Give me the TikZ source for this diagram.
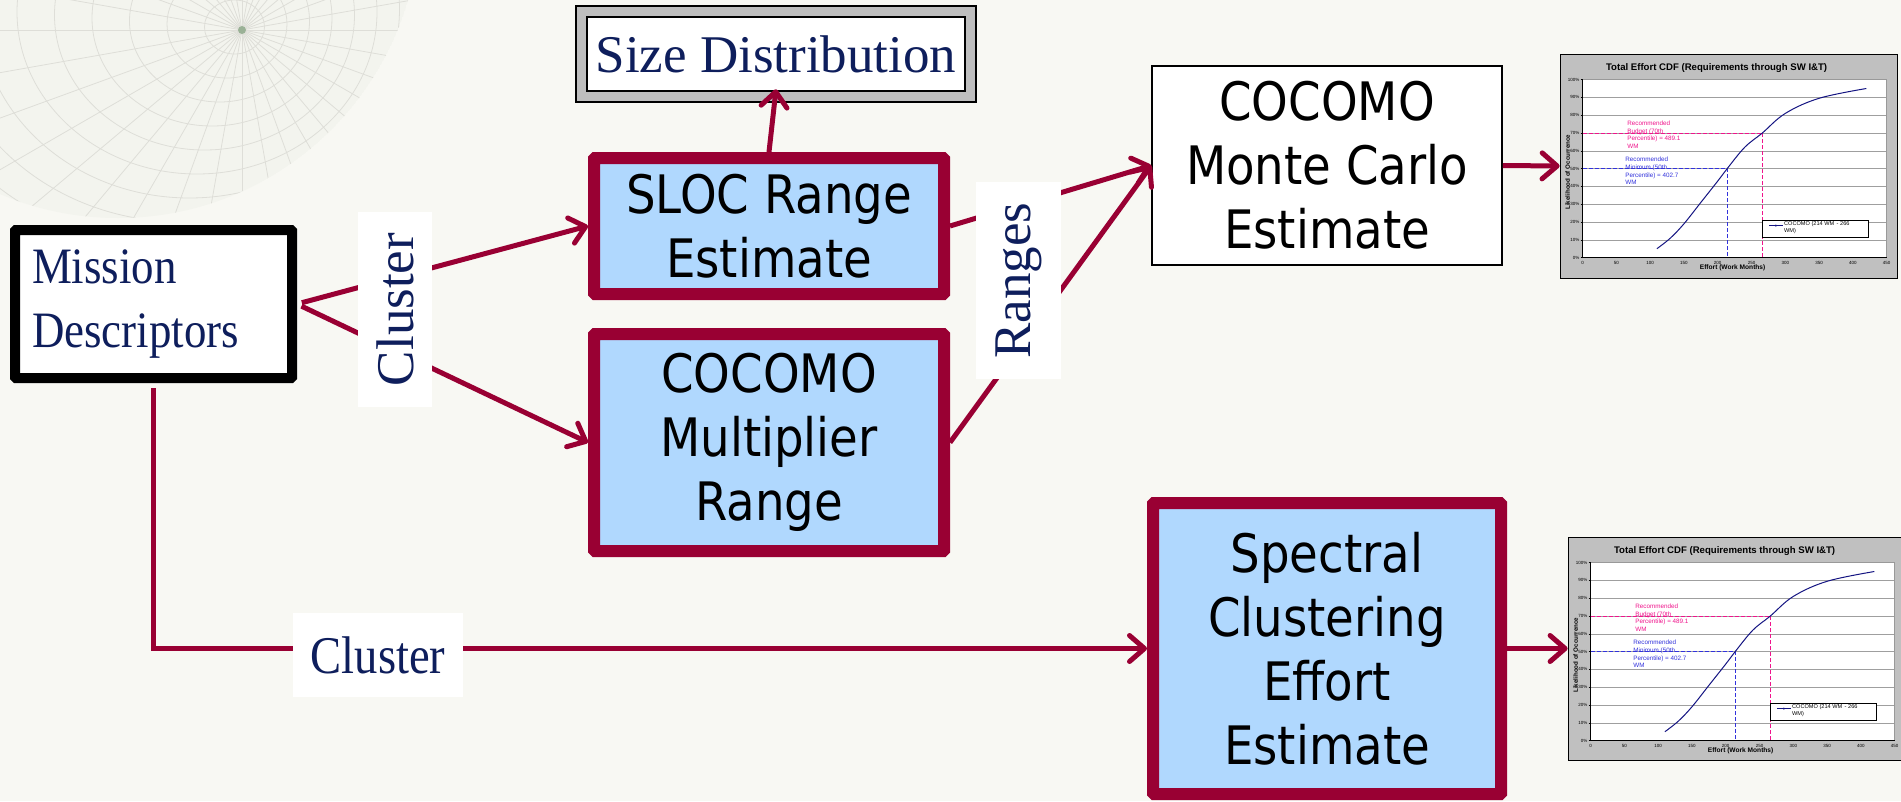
\documentclass[tikz,border=0pt]{standalone}
\usepackage{fontspec}
\setmainfont{Liberation Serif}
\newfontfamily\serifC{Liberation Serif}[FakeStretch=0.88]
\newfontfamily\sansT{DejaVu Sans}[FakeStretch=0.88]
\newfontfamily\chartfont{Liberation Sans}
\usetikzlibrary{arrows.meta}
\definecolor{crimson}{RGB}{153,0,51}
\definecolor{boxblue}{RGB}{176,216,254}
\definecolor{navy}{RGB}{14,30,92}
\definecolor{bgcream}{RGB}{248,248,243}
\definecolor{framegray}{RGB}{190,190,190}
\definecolor{chartgray}{RGB}{192,192,192}
\definecolor{chartpink}{RGB}{240,20,140}
\definecolor{chartblue}{RGB}{50,50,220}
\definecolor{curveblue}{RGB}{20,20,130}
\definecolor{globeline}{RGB}{222,222,216}
\definecolor{globefill}{RGB}{243,244,238}
\tikzset{
  x=1pt, y=-1pt,
  redbox/.style={draw=crimson, line width=12pt, fill=boxblue, rounded corners=1pt,
    align=center, inner sep=0pt, font=\sansT\fontsize{53}{64}\selectfont},
  whitebox/.style={draw=black, line width=1.5pt, fill=white, align=center,
    inner sep=0pt, font=\sansT\fontsize{53}{64}\selectfont},
  link/.style={draw=crimson, line width=5pt,
    -{Straight Barb[length=15pt,width=26pt,round]}},
  vlabel/.style={fill=white, rotate=90, inner sep=0pt, text=navy,
    font=\fontsize{53}{64}\selectfont},
  hlabel/.style={fill=white, inner sep=0pt, text=navy,
    font=\serifC\fontsize{53}{64}\selectfont},
  chartbox/.style={draw=black, line width=0.8pt, fill=chartgray, inner sep=0pt},
  tickfont/.style={font=\chartfont\fontsize{4.5}{5}\selectfont, inner sep=1pt},
  notefont/.style={font=\chartfont\fontsize{6.3}{7.7}\selectfont, inner sep=0pt, align=left},
}
\newcommand{\effchart}[1]{%
\begin{scope}[shift={(#1.north west)}]
  \node[font=\chartfont\bfseries\fontsize{9.6}{11}\selectfont, inner sep=0pt] (#1title) at (157,14)
    {Total Effort CDF (Requirements through SW I\&T)};
  \begin{scope}[shift={(23,204)}, x=0.6756pt, y=1.78pt]
    \fill[white] (0,0) rectangle (450,100);
    \foreach \p in {10,20,...,100} \draw[gray!75, line width=0.6pt] (0,\p) -- (450,\p);
    \draw[gray!80, line width=0.8pt] (0,100) -| (450,0);
    \draw[black, line width=0.9pt] (0,100) -- (0,0) -- (450,0);
    \foreach \p in {0,10,...,100} {
      \draw[black, line width=0.5pt] (-3,\p) -- (0,\p);
      \node[tickfont, anchor=east] (#1y\p) at (-3,\p) {\p\%};
    }
    \foreach \v in {0,50,...,450} {
      \node[tickfont, anchor=north] (#1x\v) at (\v,-1.5) {\v};
    }
    \node[font=\chartfont\bfseries\fontsize{6.2}{7}\selectfont, inner sep=0pt, rotate=90] (#1ytitle) at (-22,48) {Likelihood of Occurrence};
    \node[font=\chartfont\bfseries\fontsize{6.6}{7}\selectfont, inner sep=0pt] (#1xtitle) at (222,-5.6) {Effort (Work Months)};
    \draw[chartpink, dashed, line width=1pt, dash pattern=on 4pt off 2pt] (0,70) -- (266,70) -- (266,0);
    \draw[chartblue, dashed, line width=1pt, dash pattern=on 4pt off 2pt] (0,50) -- (214,50) -- (214,0);
    \draw[curveblue, line width=1pt] plot[smooth, tension=0.6] coordinates
      {(110,5) (130,11) (150,19) (175,31) (200,43) (214,50) (240,62) (266,70) (300,81) (350,89.5) (420,95)};
    \node[notefont, text=chartpink, anchor=north west] (#1budget) at (66,77)
      {Recommended\\Budget (70th\\Percentile) = 489.1\\WM};
    \node[notefont, text=chartblue, anchor=north west] (#1minimum) at (63,56.5)
      {Recommended\\Minimum (50th\\Percentile) = 402.7\\WM};
    \draw[black, fill=white, line width=0.8pt] (266,20.8) rectangle (423,11.2);
    \draw[curveblue, line width=0.7pt] (276,18) -- (296,18);
    \fill[curveblue] (286,18) circle (1.1pt);
    \node[font=\chartfont\fontsize{5.6}{6.5}\selectfont, inner sep=0pt, anchor=north west, align=left] (#1legend) at (298,20.2)
      {COCOMO (214 WM \,- 266\\WM)};
  \end{scope}
\end{scope}}
\begin{document}
\begin{tikzpicture}
\useasboundingbox (0,0) rectangle (1901,801);
\fill[bgcream] (0,0) rectangle (1901,801);
% faint globe in the top-left corner
\begin{scope}
  \clip (118,-84) circle (302);
  \fill[globefill] (118,-84) circle (302);
  \foreach \a in {0,10,...,350} \draw[globeline, line width=0.8pt] (242,30) -- ++(\a:420);
  \foreach \r in {30,60,...,330}
    \draw[globeline, line width=0.8pt] (242-0.25*\r,30-0.1*\r) ellipse [x radius=\r, y radius=0.9*\r];
\end{scope}
\fill[green!30!black, opacity=0.3] (242,30) circle (4);

% boxes
\node[draw=black, line width=1.5pt, double=framegray, double distance=9.5pt, fill=white,
  minimum width=389, minimum height=85, inner sep=0pt, text=navy,
  font=\fontsize{53}{64}\selectfont] (size) at (776,54) {Size Distribution};
\node[draw=black, line width=10pt, fill=white, rounded corners=1pt, minimum width=277,
  minimum height=148, text width=243, inner xsep=17pt, inner ysep=0pt, align=left, text=navy,
  font=\serifC\fontsize{51}{64}\selectfont] (mission) at (153.5,304) {Mission\\Descriptors};
\node[redbox, minimum width=350, minimum height=136] (sloc) at (769,226) {SLOC Range\\Estimate};
\node[redbox, minimum width=350, minimum height=217] (mult) at (769,442.5) {COCOMO\\Multiplier\\Range};
\node[whitebox, minimum width=350, minimum height=199] (mc) at (1327,165.5) {COCOMO\\Monte Carlo\\Estimate};
\node[redbox, minimum width=348, minimum height=291] (spec) at (1327,648.5) {Spectral\\Clustering\\Effort\\Estimate};
\node[chartbox, minimum width=337, minimum height=224] (chartA) at (1728.5,166) {};
\node[chartbox, minimum width=337, minimum height=223] (chartB) at (1736.5,648.5) {};
\effchart{chartA}
\effchart{chartB}

% connectors
\draw[link, shorten <=5pt] (mission.east) -- (sloc.west);
\draw[link, shorten <=5pt] (mission.east) -- (mult.west);
\draw[link] (sloc.north) -- ([yshift=8pt]size.south);
\draw[link] (sloc.east) -- (mc.west);
\draw[link] (mult.east) -- (mc.west);
\draw[link] (mc.east) -- (chartA.west);
\draw[link, shorten <=5pt] (mission.south) |- (spec.west);
\draw[link] (spec.east) -- (chartB.west);

% labels on connectors
\node[vlabel, minimum width=195, minimum height=74] (cluster1) at (395,309.5) {Cluster};
\node[vlabel, minimum width=197, minimum height=85] (ranges) at (1018.5,280.5) {Ranges};
\node[hlabel, minimum width=170, minimum height=84] (cluster2) at (378,655) {Cluster};
\end{tikzpicture}
\end{document}
